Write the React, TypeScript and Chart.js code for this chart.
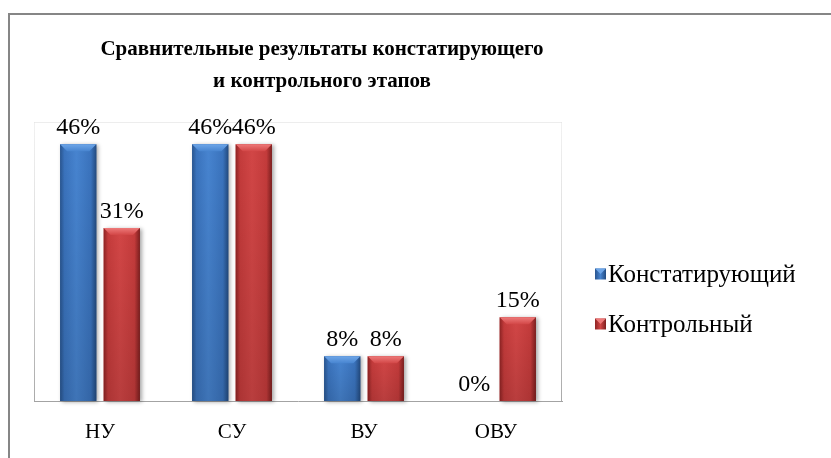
import React, { useEffect, useRef } from 'react';
import { Chart, registerables } from 'chart.js';

Chart.register(...registerables);

const CATEGORIES = ['НУ', 'СУ', 'ВУ', 'ОВУ'];
const SERIES_NAMES = ['Констатирующий', 'Контрольный'];
const KONSTAT = [46, 46, 8, 0];
const KONTROL = [31, 46, 8, 15];
const TITLE_LINES = ['Сравнительные результаты констатирующего', 'и контрольного этапов'];
const Y_MAX = 50;

const SERIF = '"Liberation Serif"';

const PALETTE = [
  { base: '#3a73bd', edge: '#29558f', mid: '#4784d0', bevel: '#6ea6e8', dark: '#234b80' },
  { base: '#c43b3b', edge: '#8f2424', mid: '#d24646', bevel: '#ee7a7a', dark: '#7d1f1f' },
];

const decorPlugin = {
  id: 'decor',
  beforeDraw(chart: any) {
    const ctx = chart.ctx as CanvasRenderingContext2D;
    const ca = chart.chartArea;
    ctx.save();
    ctx.fillStyle = '#ffffff';
    ctx.fillRect(0, 0, chart.width, chart.height);
    ctx.strokeStyle = '#868686';
    ctx.lineWidth = 2;
    ctx.strokeRect(9, 14, chart.width + 20, chart.height + 20);
    const g = ctx.createLinearGradient(0, ca.top, 0, ca.bottom);
    g.addColorStop(0, 'rgba(215,215,215,0.35)');
    g.addColorStop(1, '#a9a9a9');
    ctx.strokeStyle = g;
    ctx.lineWidth = 1;
    ctx.beginPath();
    ctx.moveTo(ca.left + 0.5, ca.top);
    ctx.lineTo(ca.left + 0.5, ca.bottom);
    ctx.moveTo(ca.right - 0.5, ca.top);
    ctx.lineTo(ca.right - 0.5, ca.bottom);
    ctx.stroke();
    ctx.strokeStyle = 'rgba(225,225,225,0.6)';
    ctx.beginPath();
    ctx.moveTo(ca.left, ca.top + 0.5);
    ctx.lineTo(ca.right, ca.top + 0.5);
    ctx.stroke();
    ctx.restore();
  },
  afterDatasetsDraw(chart: any) {
    const ctx = chart.ctx as CanvasRenderingContext2D;
    chart.data.datasets.forEach((ds: any, di: number) => {
      const meta = chart.getDatasetMeta(di);
      const pal = PALETTE[di];
      meta.data.forEach((el: any, i: number) => {
        const { x, y, base, width } = el.getProps(['x', 'y', 'base', 'width'], true);
        const left = x - width / 2;
        const right = x + width / 2;
        const top = Math.min(y, base);
        const bottom = Math.max(y, base);
        const h = bottom - top;
        if (h >= 1) {
          ctx.save();
          ctx.shadowColor = 'rgba(0,0,0,0.35)';
          ctx.shadowBlur = 4;
          ctx.shadowOffsetX = 2;
          ctx.shadowOffsetY = 1;
          const hg = ctx.createLinearGradient(left, 0, right, 0);
          hg.addColorStop(0, pal.edge);
          hg.addColorStop(0.12, pal.base);
          hg.addColorStop(0.45, pal.mid);
          hg.addColorStop(0.85, pal.base);
          hg.addColorStop(1, pal.dark);
          ctx.fillStyle = hg;
          ctx.fillRect(left, top, width, h);
          ctx.restore();
          ctx.save();
          const vg = ctx.createLinearGradient(0, top, 0, bottom);
          vg.addColorStop(0, 'rgba(0,0,0,0)');
          vg.addColorStop(1, 'rgba(0,0,0,0.12)');
          ctx.fillStyle = vg;
          ctx.fillRect(left, top, width, h);
          const b = Math.min(7, h / 2);
          const bg = ctx.createLinearGradient(0, top, 0, top + b);
          bg.addColorStop(0, pal.bevel);
          bg.addColorStop(1, pal.mid);
          ctx.fillStyle = bg;
          ctx.beginPath();
          ctx.moveTo(left, top);
          ctx.lineTo(right, top);
          ctx.lineTo(right - b, top + b);
          ctx.lineTo(left + b, top + b);
          ctx.closePath();
          ctx.fill();
          ctx.restore();
        }
        const v = ds.data[i];
        ctx.save();
        ctx.font = `24px ${SERIF}`;
        ctx.fillStyle = '#000000';
        ctx.textAlign = 'center';
        ctx.textBaseline = 'alphabetic';
        ctx.fillText(`${v}%`, x, top - 10);
        ctx.restore();
      });
    });
  },
  afterDraw(chart: any) {
    const ctx = chart.ctx as CanvasRenderingContext2D;
    ctx.save();
    ctx.font = `bold 21px ${SERIF}`;
    ctx.fillStyle = '#000000';
    ctx.textAlign = 'center';
    ctx.textBaseline = 'alphabetic';
    const titleX = 322;
    TITLE_LINES.forEach((line, k) => {
      ctx.fillText(line, titleX, 55 + k * 32);
    });
    const legendX = 595;
    const rowY = [274, 324];
    chart.data.datasets.forEach((ds: any, di: number) => {
      const pal = PALETTE[di];
      const cy = rowY[di];
      const s = 11;
      const mx = legendX;
      const my = cy - s / 2;
      const lg = ctx.createLinearGradient(mx, 0, mx + s, 0);
      lg.addColorStop(0, pal.edge);
      lg.addColorStop(0.5, pal.mid);
      lg.addColorStop(1, pal.dark);
      ctx.fillStyle = lg;
      ctx.fillRect(mx, my, s, s);
      ctx.fillStyle = pal.bevel;
      ctx.beginPath();
      ctx.moveTo(mx, my);
      ctx.lineTo(mx + s, my);
      ctx.lineTo(mx + s / 2, my + s / 2);
      ctx.closePath();
      ctx.fill();
      ctx.font = `25px ${SERIF}`;
      ctx.fillStyle = '#000000';
      ctx.textAlign = 'left';
      ctx.textBaseline = 'middle';
      ctx.fillText(ds.label, mx + s + 2, cy + 1);
    });
    ctx.restore();
  },
};

export default function App() {
  const ref = useRef<HTMLCanvasElement | null>(null);
  useEffect(() => {
    document.body.style.margin = '0';
    const canvas = ref.current;
    if (!canvas) return;
    const chart = new Chart(canvas, {
      type: 'bar',
      data: {
        labels: CATEGORIES,
        datasets: [
          { label: SERIES_NAMES[0], data: KONSTAT, backgroundColor: PALETTE[0].base, borderWidth: 0 },
          { label: SERIES_NAMES[1], data: KONTROL, backgroundColor: PALETTE[1].base, borderWidth: 0 },
        ],
      },
      options: {
        animation: false,
        responsive: false,
        devicePixelRatio: 1,
        categoryPercentage: 0.66,
        barPercentage: 0.83,
        font: { family: SERIF },
        layout: { padding: { left: 34, right: 269, top: 122, bottom: 0 } },
        plugins: {
          legend: { display: false },
          title: { display: false },
          tooltip: { enabled: false },
        },
        scales: {
          x: {
            grid: { display: false, drawTicks: false },
            border: { display: true, color: '#a3a3a3', width: 1 },
            ticks: { color: '#000000', padding: 19, font: { family: SERIF, size: 21 } },
            afterFit: (scale: any) => {
              scale.height = 57;
            },
          },
          y: {
            display: false,
            min: 0,
            max: Y_MAX,
          },
        },
      },
      plugins: [decorPlugin],
    });
    return () => chart.destroy();
  }, []);
  return (
    <div style={{ width: 831, height: 458, position: 'relative' }}>
      <canvas ref={ref} width={831} height={458} />
    </div>
  );
}
